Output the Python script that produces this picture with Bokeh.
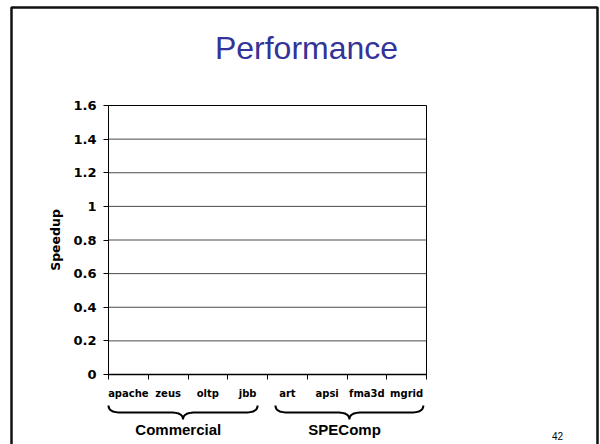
import numpy as np
from bokeh.plotting import figure
from bokeh.models import Range1d, LinearAxis, FixedTicker, NumeralTickFormatter, Label
from bokeh.embed import file_html
from bokeh.resources import INLINE

# Benchmarks on the x axis and the suite each one belongs to
categories = ["apache", "zeus", "oltp", "jbb", "art", "apsi", "fma3d", "mgrid"]
group_names = ["Commercial", "SPEComp"]
group_sizes = [4, 4]

# Speedup axis
y_ticks = [0, 0.2, 0.4, 0.6, 0.8, 1.0, 1.2, 1.4, 1.6]

title_text = "Performance"
page_number = "42"

# Page geometry (pixels): the chart area sits inside a 600x444 slide
W, H = 600, 444
AX_LEFT, AX_RIGHT, AX_TOP, AX_BOTTOM = 108, 426, 105, 374

n = len(categories)
y_max = y_ticks[-1]
sx = (AX_RIGHT - AX_LEFT) / n          # pixels per category
sy = (AX_BOTTOM - AX_TOP) / y_max      # pixels per unit of speedup


def px_x(px):
    return (px - AX_LEFT) / sx


def px_y(py):
    return (AX_BOTTOM - py) / sy


p = figure(width=W, height=H, output_backend="svg", toolbar_location=None, title=None,
           x_range=Range1d(px_x(0), px_x(W)), y_range=Range1d(px_y(H), px_y(0)),
           x_axis_type=None, y_axis_type=None, min_border=0)
p.outline_line_color = None
p.background_fill_color = "white"
p.border_fill_color = "white"

# slide frame
p.quad(left=px_x(11), right=px_x(597), top=px_y(7), bottom=px_y(470),
       fill_color=None, line_color="#111111", line_width=2.5)

# gridlines and the chart box
inner = y_ticks[1:-1]
p.segment(x0=[0] * len(inner), x1=[n] * len(inner), y0=inner, y1=inner,
          line_color="#4a4a4a", line_width=1)
p.quad(left=0, right=n, bottom=0, top=y_max, fill_color=None, line_color="black",
       line_width=1)

# y axis
yaxis = LinearAxis(ticker=FixedTicker(ticks=y_ticks), fixed_location=0, bounds=(0, y_max),
                   formatter=NumeralTickFormatter(format="0.[0]"), axis_label="Speedup")
yaxis.minor_tick_line_color = None
yaxis.major_tick_in = 0
yaxis.major_tick_out = 5
yaxis.major_label_standoff = 7
yaxis.major_label_text_font = "DejaVu Sans"
yaxis.major_label_text_font_style = "bold"
yaxis.major_label_text_font_size = "13px"
yaxis.major_label_text_color = "black"
yaxis.axis_label_text_font = "DejaVu Sans"
yaxis.axis_label_text_font_style = "bold"
yaxis.axis_label_text_font_size = "12.5px"
yaxis.axis_label_text_color = "black"
yaxis.axis_label_standoff = 7
yaxis.axis_line_color = "black"
p.add_layout(yaxis, "left")

# x axis: benchmark names centred in each slot, tick marks between slots
centers = [i + 0.5 for i in range(n)]
xaxis = LinearAxis(ticker=FixedTicker(ticks=centers, minor_ticks=list(range(n + 1))),
                   fixed_location=0, bounds=(0, n),
                   major_label_overrides={c: name for c, name in zip(centers, categories)})
xaxis.axis_line_width = 1.5
xaxis.axis_line_color = "black"
xaxis.major_tick_line_color = None
xaxis.major_tick_in = 0
xaxis.major_tick_out = 0
xaxis.minor_tick_line_color = "black"
xaxis.minor_tick_in = 0
xaxis.minor_tick_out = 5
xaxis.major_label_standoff = 8
xaxis.major_label_text_font = "DejaVu Sans"
xaxis.major_label_text_font_style = "bold"
xaxis.major_label_text_font_size = "10px"
xaxis.major_label_text_color = "black"
p.add_layout(xaxis, "below")

# braces grouping the benchmarks into suites
brace_insets = [(0.0, 0.25), (0.2, 0.08)]
y_top, y_mid, y_tip = px_y(405), px_y(412), px_y(419)
r = 12 / sx


def quad(p0, c, p2, k=14):
    t = np.linspace(0, 1, k)[:, None]
    return (1 - t) ** 2 * np.array(p0) + 2 * (1 - t) * t * np.array(c) + t ** 2 * np.array(p2)


start = 0
for name, size, (li, ri) in zip(group_names, group_sizes, brace_insets):
    x0 = start + li
    x1 = start + size - ri
    xc = (x0 + x1) / 2
    path = np.vstack([
        quad((x0, y_top), (x0, y_mid), (x0 + r, y_mid)),
        quad((xc - r, y_mid), (xc, y_mid), (xc, y_tip)),
        quad((xc, y_tip), (xc, y_mid), (xc + r, y_mid)),
        quad((x1 - r, y_mid), (x1, y_mid), (x1, y_top)),
    ])
    p.line(path[:, 0], path[:, 1], line_color="black", line_width=2)
    p.add_layout(Label(x=xc - 0.12, y=px_y(429), text=name, text_align="center",
                       text_baseline="middle", text_font="Liberation Sans",
                       text_font_style="bold", text_font_size="15px", text_color="black"))
    start += size

# slide title and page number
p.add_layout(Label(x=px_x(306), y=px_y(47), text=title_text, text_align="center",
                   text_baseline="middle", text_font="Liberation Sans",
                   text_font_size="32px", text_color="#333399"))
p.add_layout(Label(x=px_x(557), y=px_y(435), text=page_number, text_align="center",
                   text_baseline="middle", text_font="Liberation Sans",
                   text_font_size="10px", text_color="black"))

open("out.html", "w").write(file_html(p, INLINE))
